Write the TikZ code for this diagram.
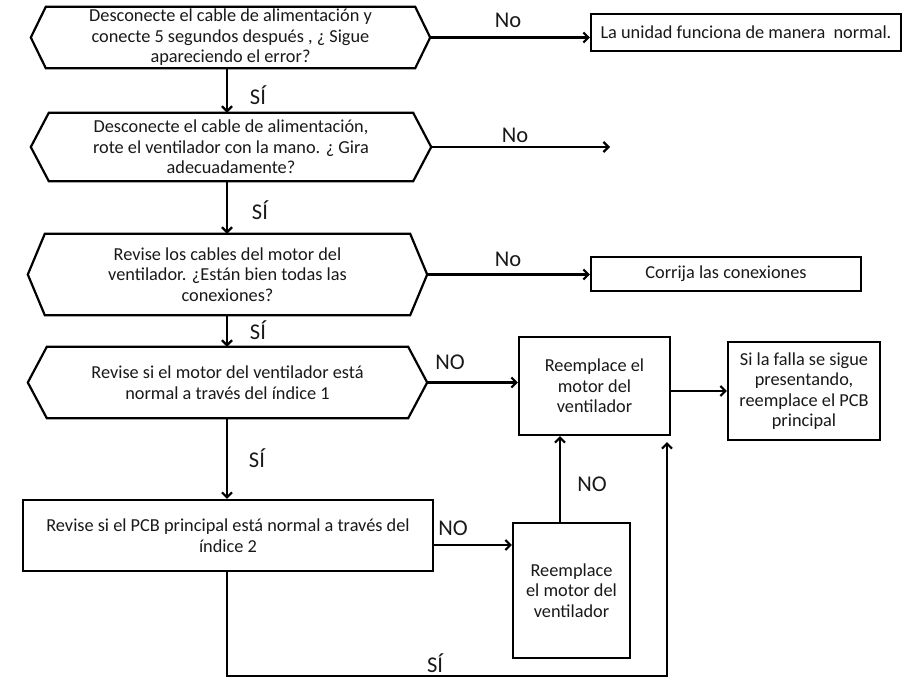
\documentclass[tikz,border=0pt]{standalone}
\usepackage{fontspec}
\setmainfont{Carlito}
\usetikzlibrary{arrows.meta,calc}
\newcommand\bodyfont{\fontsize{18.3}{20.5}\selectfont}
\newcommand\lblfont{\fontsize{22.5}{24}\selectfont}
\newcommand\hexframe[2]{\draw[frame] (#1.west) -- ([xshift=#2]#1.north west) -- ([xshift=-#2]#1.north east) -- (#1.east) -- ([xshift=-#2]#1.south east) -- ([xshift=#2]#1.south west) -- cycle;}
\begin{document}
\begin{tikzpicture}[x=1pt,y=-1pt,
  frame/.style={draw=black, line width=2.2pt, line join=miter},
  hex/.style={align=center, inner sep=0pt, font=\bodyfont, text=black!90},
  box/.style={frame, rectangle, align=center, inner sep=0pt, font=\bodyfont, text=black!90},
  lbl/.style={font=\lblfont, inner sep=0pt, text=black!90},
  arr/.style={line width=2.2pt, -{Straight Barb[length=5pt,width=10pt]}}]
\useasboundingbox (0,0) rectangle (903,680);
\fill[white] (0,0) rectangle (903,680);
\coordinate (ax) at (227,0);
% hexagon decisions
\node[hex, minimum width=399pt, minimum height=61pt] (h1) at (230.5,37.5)
  {Desconecte el cable de alimentación y\\conecte 5 segundos después , ¿ Sigue\\apareciendo el error?};
\hexframe{h1}{15pt}
\node[hex, minimum width=400pt, minimum height=68pt] (h2) at (231,147)
  {Desconecte el cable de alimentación,\\rote el ventilador con la mano. ¿ Gira\\adecuadamente?};
\hexframe{h2}{18pt}
\node[hex, minimum width=399pt, minimum height=81pt] (h3) at (227.5,274.5)
  {Revise los cables del motor del\\ventilador. ¿Están bien todas las\\conexiones?};
\hexframe{h3}{17pt}
\node[hex, minimum width=399pt, minimum height=71pt] (h4) at (227.5,382.5)
  {Revise si el motor del ventilador está\\normal a través del índice 1};
\hexframe{h4}{19pt}
% rectangles
\node[box, minimum width=410pt, minimum height=71pt] (pcb) at (228,535.5)
  {Revise si el PCB principal está normal a través del\\índice 2};
\node[box, minimum width=310pt, minimum height=37pt] (b1) at (746,32.5)
  {La unidad funciona de manera \ normal.};
\node[box, minimum width=270pt, minimum height=34pt] (b2) at (726,274)
  {Corrija las conexiones};
\node[box, minimum width=151pt, minimum height=98pt] (r1) at (594.5,386)
  {Reemplace el\\motor del\\ventilador};
\node[box, minimum width=152pt, minimum height=98pt] (r2) at (804,391)
  {Si la falla se sigue\\presentando,\\reemplace el PCB\\principal};
\node[box, minimum width=117pt, minimum height=135pt] (r3) at (571.5,590.5)
  {Reemplace\\el motor del\\ventilador};
% vertical SÍ arrows
\draw[arr] (h1.south -| ax) -- (h2.north -| ax);
\draw[arr] (h2.south -| ax) -- (h3.north -| ax);
\draw[arr] (h3.south -| ax) -- (h4.north -| ax);
\draw[arr] (h4.south -| ax) -- (pcb.north -| ax);
\node[lbl] (s1) at (258,95) {SÍ};
\node[lbl] (s2) at (260,210) {SÍ};
\node[lbl] (s3) at (258,330) {SÍ};
\node[lbl] (s4) at (257,458) {SÍ};
% No arrows
\coordinate (n2end) at (610,147);
\draw[arr] (h1.east) -- (h1.east -| b1.west);
\draw[arr] (h2.east) -- (n2end);
\draw[arr] (h3.east) -- (h3.east -| b2.west);
\draw[arr] (h4.east) -- (h4.east -| r1.west);
\draw[arr] (r1.east |- r2.west) -- (r2.west);
\coordinate (pno) at ([yshift=-9.5pt]pcb.east);
\draw[arr] (pno) -- (pno -| r3.west);
\coordinate (up) at ([xshift=-11.5pt]r3.north);
\draw[arr] (up) -- (up |- r1.south);
\node[lbl] (no1) at (508,20) {No};
\node[lbl] (no2) at (515,135) {No};
\node[lbl] (no3) at (508,259) {No};
\node[lbl] (no4) at (450,362) {NO};
\node[lbl] (no5) at (453,528) {NO};
\node[lbl] (no6) at (592,484) {NO};
% SÍ loop from PCB back up
\coordinate (lr) at (667,676);
\draw[arr, shorten >=6pt] (pcb.south -| ax) |- (lr) -- (lr |- r1.south);
\node[lbl] (s5) at (435,663) {SÍ};
\end{tikzpicture}
\end{document}
